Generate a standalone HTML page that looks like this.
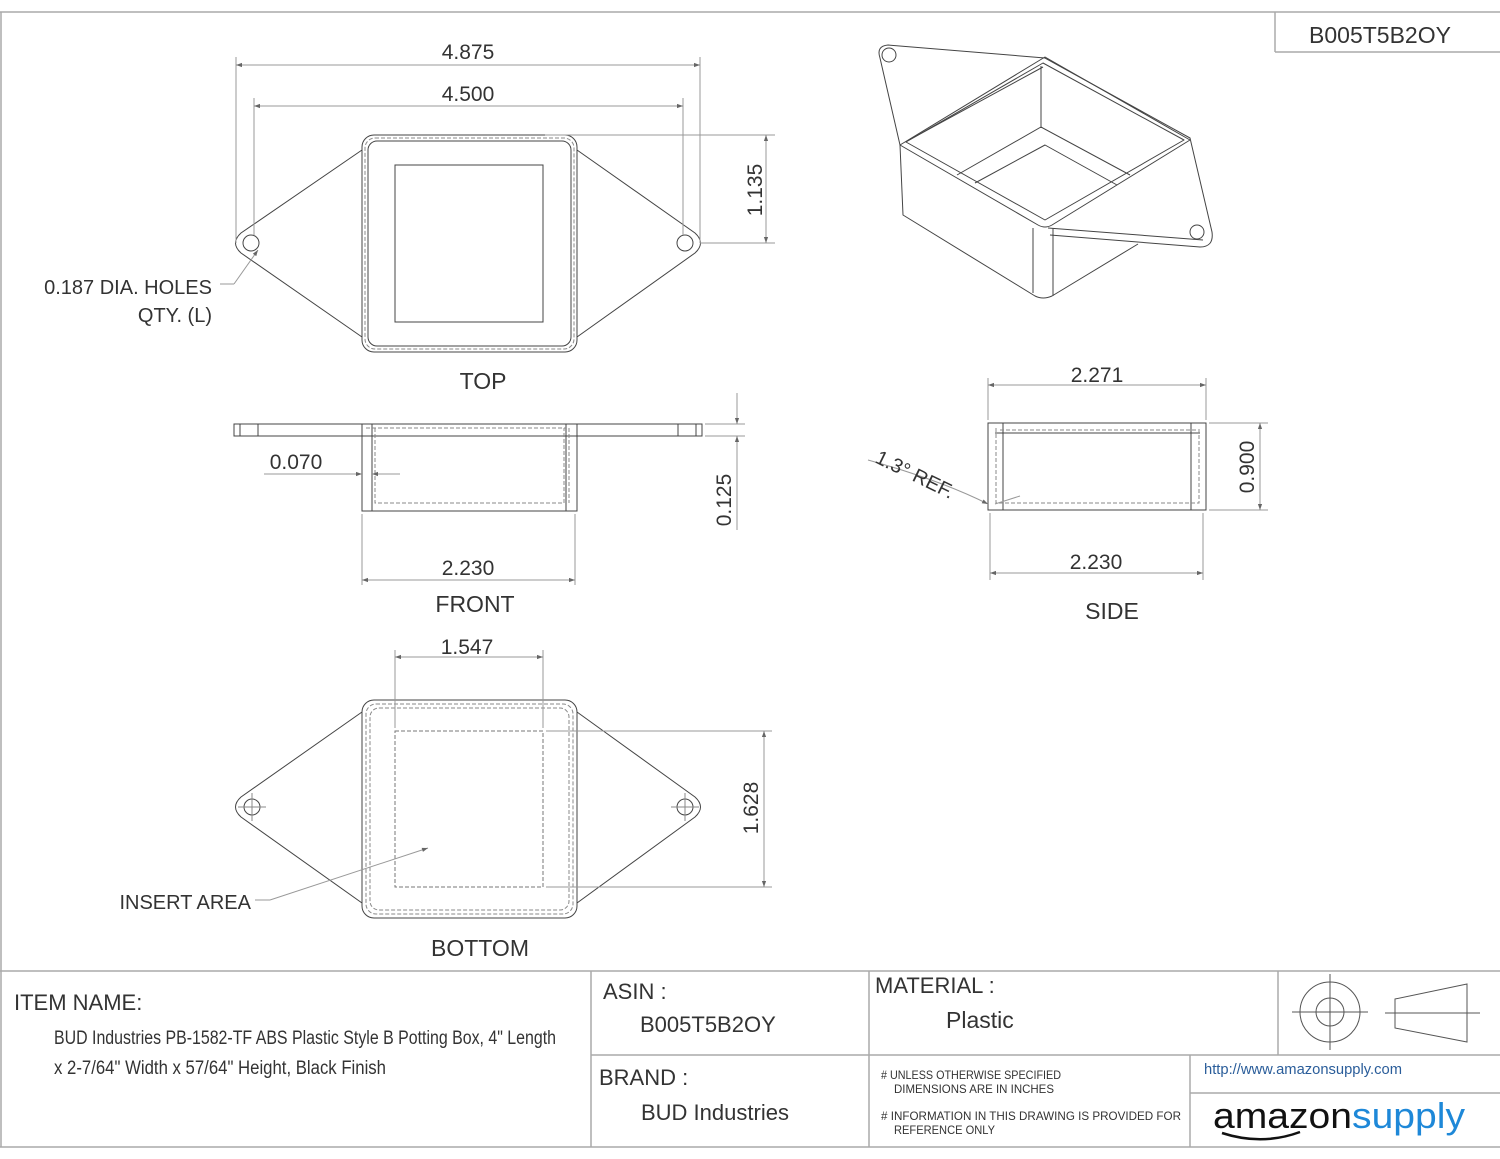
<!DOCTYPE html>
<html><head><meta charset="utf-8"><style>
html,body{margin:0;padding:0;background:#fff;}
svg{display:block;}
text{font-family:"Liberation Sans",sans-serif;fill:#333;}
</style></head><body>
<svg width="1500" height="1159" viewBox="0 0 1500 1159" xmlns="http://www.w3.org/2000/svg">
<defs>
<marker id="a" viewBox="0 0 10 10" refX="10" refY="5" markerWidth="14" markerHeight="6" orient="auto-start-reverse" markerUnits="userSpaceOnUse"><path d="M0,1.5 L10,5 L0,8.5 Z" fill="#666"/></marker>
</defs>
<g fill="none" stroke="#aaa" stroke-width="1.5">
<line x1="0" y1="12" x2="1500" y2="12"/>
<line x1="1" y1="12" x2="1" y2="1147"/>
<line x1="1275" y1="12" x2="1275" y2="52"/>
<line x1="1275" y1="52" x2="1500" y2="52"/>
<line x1="0" y1="971" x2="1500" y2="971"/>
<line x1="0" y1="1147" x2="1500" y2="1147"/>
<line x1="591" y1="971" x2="591" y2="1147"/>
<line x1="869" y1="971" x2="869" y2="1147"/>
<line x1="1278" y1="971" x2="1278" y2="1055"/>
<line x1="591" y1="1055" x2="1500" y2="1055"/>
<line x1="1190" y1="1055" x2="1190" y2="1147"/>
<line x1="1190" y1="1093" x2="1500" y2="1093"/>
</g>
<text x="1380" y="43" font-size="23" text-anchor="middle">B005T5B2OY</text>

<!-- TOP VIEW -->
<g fill="none" stroke="#444" stroke-width="1">
<path d="M362,150 L241,233 Q230,243 241,253 L362,337"/>
<path d="M577,150 L695,233 Q706,243 695,253 L577,337"/>
<circle cx="251" cy="243" r="8"/><circle cx="685" cy="243" r="8"/>
<rect x="362" y="135" width="215" height="217" rx="12"/>
<rect x="365" y="138" width="209" height="211" rx="10" stroke-dasharray="4,2" stroke="#888"/>
<rect x="368" y="141" width="203" height="205" rx="9"/>
<rect x="395" y="165" width="148" height="157"/>
</g>
<g stroke="#999" stroke-width="1" fill="none">
<line x1="236" y1="57" x2="236" y2="243"/><line x1="700" y1="57" x2="700" y2="243"/>
<line x1="254" y1="98" x2="254" y2="235"/><line x1="683" y1="98" x2="683" y2="235"/>
<line x1="236" y1="65" x2="700" y2="65" marker-start="url(#a)" marker-end="url(#a)"/>
<line x1="254" y1="106" x2="683" y2="106" marker-start="url(#a)" marker-end="url(#a)"/>
<line x1="545" y1="135" x2="775" y2="135"/><line x1="700" y1="243" x2="775" y2="243"/>
<line x1="766" y1="135" x2="766" y2="243" marker-start="url(#a)" marker-end="url(#a)"/>
<line x1="220" y1="284" x2="234" y2="284"/><line x1="234" y1="284" x2="258" y2="250" marker-end="url(#a)"/>
</g>
<text x="468" y="59" font-size="21" text-anchor="middle">4.875</text>
<text x="468" y="101" font-size="21" text-anchor="middle">4.500</text>
<text transform="translate(762,190) rotate(-90)" font-size="21" text-anchor="middle">1.135</text>
<text x="212" y="294" font-size="20" text-anchor="end">0.187 DIA. HOLES</text>
<text x="212" y="322" font-size="20" text-anchor="end">QTY. (L)</text>
<text x="483" y="389" font-size="23" text-anchor="middle">TOP</text>

<!-- FRONT VIEW -->
<g fill="none" stroke="#444" stroke-width="1">
<rect x="234" y="424" width="468" height="12"/>
<rect x="362" y="424" width="215" height="87"/>
<line x1="372" y1="424" x2="372" y2="511"/><line x1="566" y1="424" x2="566" y2="511"/>
<line x1="240" y1="424" x2="240" y2="436"/><line x1="258" y1="424" x2="258" y2="436"/>
<line x1="678" y1="424" x2="678" y2="436"/><line x1="696" y1="424" x2="696" y2="436"/>
</g>
<g fill="none" stroke="#888" stroke-dasharray="4,2">
<path d="M375,428 L375,503 L564,503 L564,428"/>
<line x1="366" y1="428" x2="566" y2="428"/>
<line x1="569" y1="428" x2="569" y2="503"/>
</g>
<g stroke="#999" stroke-width="1" fill="none">
<line x1="264" y1="474" x2="362" y2="474" marker-end="url(#a)"/>
<line x1="400" y1="474" x2="372" y2="474" marker-end="url(#a)"/>
<line x1="705" y1="424" x2="745" y2="424"/><line x1="705" y1="436" x2="745" y2="436"/>
<line x1="737" y1="393" x2="737" y2="424" marker-end="url(#a)"/>
<line x1="737" y1="530" x2="737" y2="436" marker-end="url(#a)"/>
<line x1="362" y1="514" x2="362" y2="585"/><line x1="575" y1="514" x2="575" y2="585"/>
<line x1="362" y1="580" x2="575" y2="580" marker-start="url(#a)" marker-end="url(#a)"/>
</g>
<text x="296" y="469" font-size="21" text-anchor="middle">0.070</text>
<text transform="translate(731,500) rotate(-90)" font-size="21" text-anchor="middle">0.125</text>
<text x="468" y="575" font-size="21" text-anchor="middle">2.230</text>
<text x="475" y="612" font-size="23" text-anchor="middle">FRONT</text>

<!-- SIDE VIEW -->
<g fill="none" stroke="#444" stroke-width="1">
<rect x="988" y="423" width="218" height="87"/>
<line x1="1003" y1="423" x2="1003" y2="510"/><line x1="1191" y1="423" x2="1191" y2="510"/>
<line x1="995" y1="433" x2="1200" y2="433"/>
</g>
<g fill="none" stroke="#888" stroke-dasharray="4,2">
<path d="M996,428 L996,503 L1199,503 L1199,428"/>
<line x1="1000" y1="430" x2="1196" y2="430"/>
</g>
<g stroke="#999" stroke-width="1" fill="none">
<line x1="988" y1="378" x2="988" y2="420"/><line x1="1206" y1="378" x2="1206" y2="420"/>
<line x1="988" y1="385" x2="1206" y2="385" marker-start="url(#a)" marker-end="url(#a)"/>
<line x1="1209" y1="423" x2="1268" y2="423"/><line x1="1209" y1="510" x2="1268" y2="510"/>
<line x1="1260" y1="423" x2="1260" y2="510" marker-start="url(#a)" marker-end="url(#a)"/>
<line x1="990" y1="513" x2="990" y2="580"/><line x1="1203" y1="513" x2="1203" y2="580"/>
<line x1="990" y1="573" x2="1203" y2="573" marker-start="url(#a)" marker-end="url(#a)"/>
<path d="M868,460 Q940,480 988,504" marker-end="url(#a)"/>
<line x1="1020" y1="496" x2="995" y2="504"/>
</g>
<text x="1097" y="382" font-size="21" text-anchor="middle">2.271</text>
<text transform="translate(1254,467) rotate(-90)" font-size="21" text-anchor="middle">0.900</text>
<text x="1096" y="569" font-size="21" text-anchor="middle">2.230</text>
<text transform="translate(874,462) rotate(26)" font-size="20">1.3° REF.</text>
<text x="1112" y="619" font-size="23" text-anchor="middle">SIDE</text>

<!-- ISO VIEW -->
<g fill="none" stroke="#444" stroke-width="1" stroke-linejoin="round">
<path d="M900,145 L880,58 Q876,46 888,45 L1045,58"/>
<path d="M1045,58 L1190,138 L1212,232 Q1214,247 1200,247 L1050,235"/>
<path d="M900,145 L1045,57 L1190,140 L1052,225 Q1045,229 1038,225 Z"/>
<path d="M906,142 L1043,63 L1184,140 L1045,220 Z"/>
<path d="M909,140 L1043,67"/>
<line x1="1041" y1="66" x2="1041" y2="128"/>
<path d="M957,175 L1041,127 L1130,175"/>
<path d="M975,183 L1045,145 L1117,185"/>
<path d="M900,145 L903,215 L1035,296 Q1043,300 1052,296 L1138,244"/>
<line x1="1033" y1="228" x2="1033" y2="293"/>
<line x1="1053" y1="228" x2="1053" y2="296"/>
<line x1="1048" y1="228" x2="1203" y2="240"/>
<circle cx="889" cy="55" r="7"/><circle cx="1197" cy="232" r="7"/>
</g>

<!-- BOTTOM VIEW -->
<g fill="none" stroke="#444" stroke-width="1">
<path d="M362,712 L241,797 Q230,807 241,817 L362,903"/>
<path d="M577,712 L695,797 Q706,807 695,817 L577,903"/>
<circle cx="252" cy="807" r="8"/><circle cx="685" cy="807" r="8"/>
<path d="M238,807 H266 M252,793 V821 M671,807 H699 M685,793 V821" stroke="#888"/>
<rect x="362" y="700" width="215" height="218" rx="12"/>
<rect x="366" y="704" width="207" height="210" rx="10" stroke="#888" stroke-dasharray="4,2"/>
<rect x="370" y="708" width="199" height="202" rx="9" stroke="#888" stroke-dasharray="4,2"/>
<rect x="395" y="731" width="148" height="156" stroke="#777" stroke-dasharray="4,2"/>
</g>
<g stroke="#999" stroke-width="1" fill="none">
<line x1="395" y1="650" x2="395" y2="728"/><line x1="543" y1="650" x2="543" y2="728"/>
<line x1="395" y1="657" x2="543" y2="657" marker-start="url(#a)" marker-end="url(#a)"/>
<line x1="546" y1="731" x2="772" y2="731"/><line x1="546" y1="887" x2="772" y2="887"/>
<line x1="764" y1="731" x2="764" y2="887" marker-start="url(#a)" marker-end="url(#a)"/>
<line x1="255" y1="900" x2="270" y2="900"/><line x1="270" y1="900" x2="428" y2="848" marker-end="url(#a)"/>
</g>
<text x="467" y="654" font-size="21" text-anchor="middle">1.547</text>
<text transform="translate(758,808) rotate(-90)" font-size="21" text-anchor="middle">1.628</text>
<text x="251" y="909" font-size="20" text-anchor="end">INSERT AREA</text>
<text x="480" y="956" font-size="23" text-anchor="middle">BOTTOM</text>

<!-- TITLE BLOCK -->
<text x="14" y="1010" font-size="22">ITEM NAME:</text>
<text x="54" y="1044" font-size="19" textLength="502" lengthAdjust="spacingAndGlyphs">BUD Industries PB-1582-TF ABS Plastic Style B Potting Box, 4" Length</text>
<text x="54" y="1074" font-size="19" textLength="332" lengthAdjust="spacingAndGlyphs">x 2-7/64" Width x 57/64" Height, Black Finish</text>
<text x="603" y="999" font-size="22">ASIN :</text>
<text x="640" y="1032" font-size="22">B005T5B2OY</text>
<text x="599" y="1085" font-size="22">BRAND :</text>
<text x="641" y="1120" font-size="22">BUD Industries</text>
<text x="875" y="993" font-size="22">MATERIAL :</text>
<text x="946" y="1028" font-size="23">Plastic</text>
<text x="881" y="1079" font-size="12" textLength="180" lengthAdjust="spacingAndGlyphs">#  UNLESS OTHERWISE SPECIFIED</text>
<text x="894" y="1093" font-size="12" textLength="160" lengthAdjust="spacingAndGlyphs">DIMENSIONS ARE IN INCHES</text>
<text x="881" y="1120" font-size="12" textLength="300" lengthAdjust="spacingAndGlyphs">#  INFORMATION IN THIS DRAWING IS PROVIDED FOR</text>
<text x="894" y="1134" font-size="12" textLength="101" lengthAdjust="spacingAndGlyphs">REFERENCE ONLY</text>
<text x="1204" y="1074" font-size="15" style="fill:#2a5d9a" textLength="198" lengthAdjust="spacingAndGlyphs">http://www.amazonsupply.com</text>
<text x="1213" y="1128" font-size="36" textLength="252" lengthAdjust="spacingAndGlyphs"><tspan style="fill:#111">amazon</tspan><tspan style="fill:#1e88d8">supply</tspan></text>
<path d="M1222,1133 Q1262,1146 1300,1132" fill="none" stroke="#111" stroke-width="2.5"/>
<g fill="none" stroke="#555" stroke-width="1">
<circle cx="1330" cy="1012" r="30"/><circle cx="1330" cy="1012" r="14"/>
<line x1="1292" y1="1012" x2="1368" y2="1012"/><line x1="1330" y1="974" x2="1330" y2="1050"/>
<path d="M1395,999 L1467,984 L1467,1042 L1395,1028 Z"/>
<line x1="1385" y1="1013" x2="1480" y2="1013"/>
</g>
</svg>
</body></html>
